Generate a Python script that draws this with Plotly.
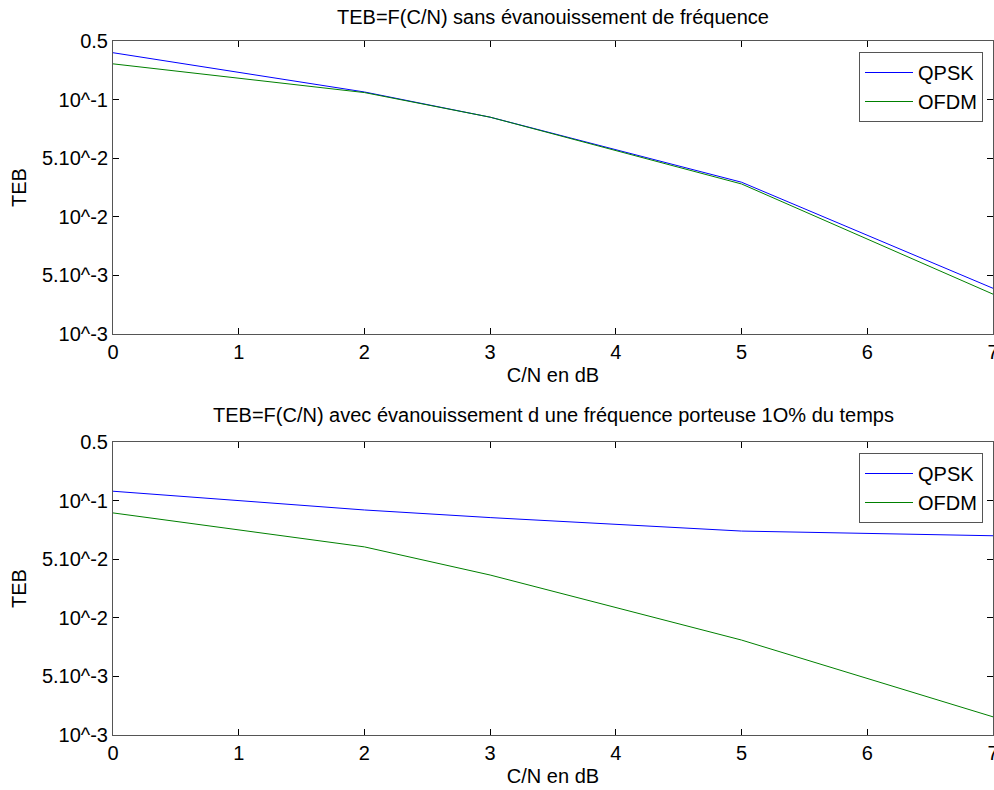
import plotly.graph_objects as go

# Data (y expressed in tick-position units: 0=10^-3 ... 5=0.5)
cn_db = [0, 2, 3, 5, 7]
qpsk_top = [4.80, 4.13, 3.70, 2.59, 0.78]
ofdm_top = [4.61, 4.12, 3.70, 2.56, 0.68]
qpsk_bot = [4.16, 3.84, 3.71, 3.48, 3.40]
ofdm_bot = [3.79, 3.21, 2.73, 1.62, 0.31]

y_tickvals = [0, 1, 2, 3, 4, 5]
y_ticktext = ["10^-3", "5.10^-3", "10^-2", "5.10^-2", "10^-1", "0.5"]
x_tickvals = [0, 1, 2, 3, 4, 5, 6, 7]

title_top = "TEB=F(C/N) sans évanouissement de fréquence"
title_bot = "TEB=F(C/N) avec évanouissement d une fréquence porteuse 1O% du temps"

W, H = 994, 790
FONT = "Liberation Sans, Arial, sans-serif"
FS = 20
BLUE = "#0000FF"
GREEN = "#008000"
AX = "#555555"

fig = go.Figure()
fig.add_trace(go.Scatter(x=cn_db, y=qpsk_top, mode="lines", name="QPSK",
                         line=dict(color=BLUE, width=1), xaxis="x", yaxis="y", legend="legend"))
fig.add_trace(go.Scatter(x=cn_db, y=ofdm_top, mode="lines", name="OFDM",
                         line=dict(color=GREEN, width=1), xaxis="x", yaxis="y", legend="legend"))
fig.add_trace(go.Scatter(x=cn_db, y=qpsk_bot, mode="lines", name="QPSK",
                         line=dict(color=BLUE, width=1), xaxis="x2", yaxis="y2", legend="legend2"))
fig.add_trace(go.Scatter(x=cn_db, y=ofdm_bot, mode="lines", name="OFDM",
                         line=dict(color=GREEN, width=1), xaxis="x2", yaxis="y2", legend="legend2"))

def px_x(p):
    return p / W

def px_y(p):
    return 1 - p / H

xdom = [px_x(113), px_x(993)]
ydom_top = [px_y(334), px_y(41)]
ydom_bot = [px_y(735), px_y(442)]

def xax(anchor, dom):
    return dict(domain=dom, anchor=anchor, range=[0, 7], tickvals=x_tickvals,
                ticks="inside", ticklen=6, tickcolor="#000000", mirror="ticks",
                showline=True, linecolor=AX, linewidth=1, showgrid=False, zeroline=False,
                automargin=False, ticklabeloverflow="allow",
                tickfont=dict(family=FONT, size=FS, color="black"),
                title=dict(text="C/N en dB", font=dict(family=FONT, size=FS, color="black"), standoff=5))

def yax(anchor, dom):
    return dict(domain=dom, anchor=anchor, range=[0, 5], tickvals=y_tickvals, ticktext=y_ticktext,
                ticks="inside", ticklen=6, tickcolor="#000000", mirror="ticks",
                showline=True, linecolor=AX, linewidth=1, showgrid=False, zeroline=False,
                automargin=False,
                tickfont=dict(family=FONT, size=FS, color="black"),
                title=dict(text="TEB", font=dict(family=FONT, size=FS, color="black"), standoff=9))

leg_common = dict(bgcolor="white", bordercolor=AX, borderwidth=1,
                  font=dict(family=FONT, size=FS, color="black"),
                  xanchor="right", yanchor="top", tracegroupgap=0,
                  itemwidth=48)

fig.update_layout(
    width=W, height=H,
    margin=dict(l=0, r=0, t=0, b=0),
    paper_bgcolor="white", plot_bgcolor="white",
    xaxis=xax("y", xdom),
    yaxis=yax("x", ydom_top),
    xaxis2=xax("y2", xdom),
    yaxis2=yax("x2", ydom_bot),
    legend=dict(x=px_x(983), y=px_y(52), **leg_common),
    legend2=dict(x=px_x(983), y=px_y(453), **leg_common),
    annotations=[
        dict(text=title_top, x=(xdom[0] + xdom[1]) / 2, y=px_y(17), xref="paper", yref="paper",
             showarrow=False, font=dict(family=FONT, size=FS, color="black"),
             xanchor="center", yanchor="middle"),
        dict(text=title_bot, x=(xdom[0] + xdom[1]) / 2, y=px_y(415), xref="paper", yref="paper",
             showarrow=False, font=dict(family=FONT, size=FS, color="black"),
             xanchor="center", yanchor="middle"),
    ],
)

fig.write_html("out.html", config={"displayModeBar": False},
               post_script="document.body.style.margin='0';")
